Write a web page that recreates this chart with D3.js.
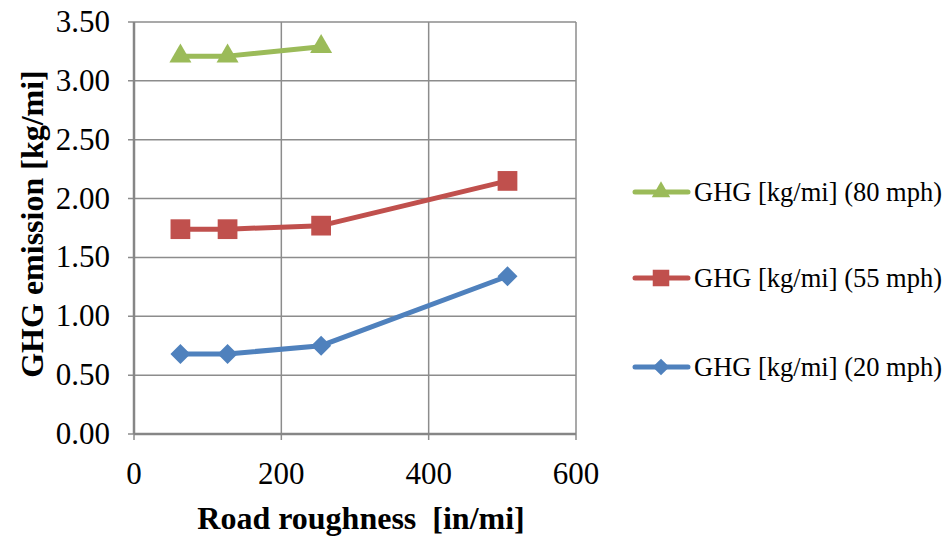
<!DOCTYPE html>
<html>
<head>
<meta charset="utf-8">
<script src="https://cdn.jsdelivr.net/npm/d3@7"></script>
<style>
  body { margin: 0; background: #fff; }
</style>
</head>
<body>
<script>
// road roughness values (in/mi)
const roughness = [63, 127, 254, 507];
const ghg80 = [3.21, 3.21, 3.29];
const ghg55 = [1.74, 1.74, 1.77, 2.15];
const ghg20 = [0.68, 0.68, 0.75, 1.34];
const xTicks = [0, 200, 400, 600];
const yTicks = [0, 0.5, 1, 1.5, 2, 2.5, 3, 3.5];

const series = [
    { name: 'GHG [kg/mi] (80 mph)', values: ghg80, color: '#9bbb59', marker: 'triangle' },
    { name: 'GHG [kg/mi] (55 mph)', values: ghg55, color: '#c0504d', marker: 'square' },
    { name: 'GHG [kg/mi] (20 mph)', values: ghg20, color: '#4f81bd', marker: 'diamond' }
];

const width = 948;
const height = 536;
const plotLeft = 134, plotRight = 576, plotTop = 22, plotBottom = 434;
const FONT = "'Liberation Serif'";

const svg = d3.select('body')
    .append('svg')
    .attr('width', width)
    .attr('height', height);

const x = d3.scaleLinear().domain([0, 600]).range([plotLeft, plotRight]);
const y = d3.scaleLinear().domain([0, 3.5]).range([plotBottom, plotTop]);

// marker shapes: square rotated gives the diamond
const markerArea = { triangle: 210, square: 390, diamond: 200 };
const markerPath = (m, k) => {
    const type = m === 'triangle' ? d3.symbolTriangle : d3.symbolSquare;
    return d3.symbol().type(type).size(markerArea[m] * k)();
};
const markerRotate = m => m === 'diamond' ? ' rotate(45)' : '';

// grid lines
svg.append('g')
    .selectAll('line')
    .data(yTicks)
    .enter()
    .append('line')
    .attr('x1', plotLeft - 6).attr('x2', plotRight)
    .attr('y1', d => y(d)).attr('y2', d => y(d))
    .attr('stroke', '#8c8c8c')
    .attr('stroke-width', 1.5);

svg.append('g')
    .selectAll('line')
    .data(xTicks)
    .enter()
    .append('line')
    .attr('x1', d => x(d)).attr('x2', d => x(d))
    .attr('y1', plotTop).attr('y2', plotBottom + 6)
    .attr('stroke', '#8c8c8c')
    .attr('stroke-width', 1.5);

// axis lines
svg.append('line')
    .attr('x1', plotLeft).attr('x2', plotLeft).attr('y1', plotTop).attr('y2', plotBottom)
    .attr('stroke', '#868686').attr('stroke-width', 2.5);
svg.append('line')
    .attr('x1', plotLeft).attr('x2', plotRight).attr('y1', plotBottom).attr('y2', plotBottom)
    .attr('stroke', '#868686').attr('stroke-width', 2.5);

// tick labels
svg.append('g')
    .selectAll('text')
    .data(yTicks)
    .enter()
    .append('text')
    .attr('x', 110)
    .attr('y', d => y(d) + 10)
    .attr('text-anchor', 'end')
    .attr('font-family', FONT)
    .attr('font-size', 31)
    .text(d => d.toFixed(2));

svg.append('g')
    .selectAll('text')
    .data(xTicks)
    .enter()
    .append('text')
    .attr('x', d => x(d))
    .attr('y', 484)
    .attr('text-anchor', 'middle')
    .attr('font-family', FONT)
    .attr('font-size', 31)
    .text(d => d);

// axis titles
svg.append('text')
    .attr('x', 361)
    .attr('y', 529)
    .attr('text-anchor', 'middle')
    .attr('font-family', FONT)
    .attr('font-size', 32)
    .attr('font-weight', 'bold')
    .style('white-space', 'pre')
    .text('Road roughness  [in/mi]');

svg.append('text')
    .attr('transform', 'translate(43, 224) rotate(-90)')
    .attr('text-anchor', 'middle')
    .attr('font-family', FONT)
    .attr('font-size', 32)
    .attr('font-weight', 'bold')
    .text('GHG emission [kg/mi]');

// series lines and markers
const line = d3.line()
    .x((d, i) => x(roughness[i]))
    .y(d => y(d));

series.forEach(s => {
    svg.append('path')
        .datum(s.values)
        .attr('d', line)
        .style('fill', 'none')
        .attr('stroke', s.color)
        .attr('stroke-width', 5)
        .attr('stroke-linejoin', 'round');

    svg.append('g')
        .selectAll('path')
        .data(s.values)
        .enter()
        .append('path')
        .attr('transform', (d, i) => 'translate(' + x(roughness[i]) + ',' + y(d) + ')' + markerRotate(s.marker))
        .attr('d', markerPath(s.marker, 1))
        .style('fill', s.color);
});

// legend
const legendY = [192, 278, 367];
series.forEach((s, i) => {
    const g = svg.append('g').attr('transform', 'translate(0,' + legendY[i] + ')');
    g.append('line')
        .attr('x1', 635).attr('x2', 688)
        .attr('y1', 0).attr('y2', 0)
        .attr('stroke', s.color)
        .attr('stroke-width', 5)
        .attr('stroke-linecap', 'round');
    g.append('path')
        .attr('transform', 'translate(661,0)' + markerRotate(s.marker))
        .attr('d', markerPath(s.marker, 0.7))
        .style('fill', s.color);
    g.append('text')
        .attr('x', 694)
        .attr('y', 9)
        .attr('font-family', FONT)
        .attr('font-size', 26.5)
        .text(s.name);
});
</script>
</body>
</html>
